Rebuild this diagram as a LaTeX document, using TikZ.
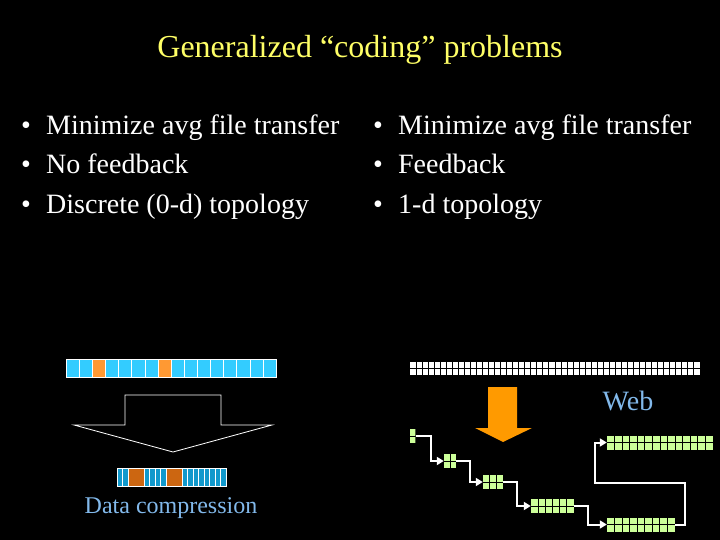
\documentclass[tikz,border=0pt]{standalone}
\usepackage{fontspec}
\setmainfont{Liberation Serif}
\usetikzlibrary{calc,arrows.meta}
\definecolor{titleyellow}{RGB}{255,255,102}
\definecolor{labelblue}{RGB}{130,185,235}
\definecolor{cellblue}{RGB}{51,204,255}
\definecolor{cellorange}{RGB}{255,153,51}
\definecolor{packblue}{RGB}{17,153,204}
\definecolor{packorange}{RGB}{204,102,17}
\definecolor{cellgreen}{RGB}{204,255,153}
\definecolor{arroworange}{RGB}{255,154,0}
\newcommand{\itemdot}{\makebox[25pt][l]{\textbullet}}

\begin{document}
\begin{tikzpicture}[x=1pt,y=-1pt,
        every node/.style={inner sep=0pt},
        title/.style={anchor=base,text=titleyellow,font=\fontsize{32}{34}\selectfont},
        item/.style={anchor=base west,text=white,font=\fontsize{28}{30}\selectfont},
        caption/.style={anchor=base,text=labelblue,font=\fontsize{24}{26}\selectfont},
        grid/.style={draw=none,minimum height=14pt,path picture={
            \foreach \k in {1,...,#1}
                \draw[black,line width=1pt]
                    ($(path picture bounding box.south west)!{\k/#1}!(path picture bounding box.south east)$)
                    -- ($(path picture bounding box.north west)!{\k/#1}!(path picture bounding box.north east)$);
            \draw[black,line width=1pt] (path picture bounding box.west) -- (path picture bounding box.east);}},
        block/.style={grid=#1,fill=cellgreen},
        flow/.style={white,line width=2pt,-{Triangle[length=7pt,width=8pt]}}]
    \useasboundingbox[fill=black] (0,0) rectangle (720,540);

    % heading and the two lists
    \node[title] (title) at (360,58) {Generalized “coding” problems};
    \node[item] (l1) at (21,135) {\itemdot Minimize avg file transfer};
    \node[item] (l2) at (21,174) {\itemdot No feedback};
    \node[item] (l3) at (21,214) {\itemdot Discrete (0-d) topology};
    \node[item] (r1) at (373,135) {\itemdot Minimize avg file transfer};
    \node[item] (r2) at (373,174) {\itemdot Feedback};
    \node[item] (r3) at (373,214) {\itemdot 1-d topology};

    % left: compression
    \foreach \i in {0,...,15}
        \draw[white,fill=cellblue] (66+\i*13.125,359) rectangle ++(13.125,18);
    \foreach \i in {2,7}
        \draw[white,fill=cellorange] (66+\i*13.125,359) rectangle ++(13.125,18);
    \draw[white,line width=0.8pt] (125,395) -- (221,395) -- (221,425) -- (272,425)
        -- (173,452) -- (74,425) -- (125,425) -- cycle;
    \foreach \x in {117,122.5,144,149.5,155,160.5,182,187.5,193,198.5,204,209.5,215,220.5}
        \draw[white,fill=packblue] (\x,468) rectangle ++(5.5,18);
    \foreach \x in {128,166}
        \draw[white,fill=packorange] (\x,468) rectangle ++(16,18);
    \node[caption] (data) at (171,513) {Data compression};

    % right: web
    \node[grid=48,fill=white,minimum width=290pt,minimum height=13pt] (file) at (555,368.5) {};
    \fill[arroworange] (488,387) -- (517,387) -- (517,428) -- (532,428)
        -- (503,442) -- (475,428) -- (488,428) -- cycle;
    \node[caption,font=\fontsize{28}{30}\selectfont] (web) at (628,410) {Web};

    \node[block=1,minimum width=6pt] (b1) at (412.5,436) {};
    \node[block=2,minimum width=12pt] (b2) at (450,461) {};
    \node[block=3,minimum width=20pt] (b3) at (493,482) {};
    \node[block=6,minimum width=43pt] (b4) at (552.5,506) {};
    \node[block=9,minimum width=68pt] (b5) at (641,524.5) {};
    \node[block=14,minimum width=106pt] (b6) at (660,442.5) {};
    \coordinate (bend) at (595,483);

    \draw[flow] (b1.east) -- ++(15,0) |- (b2.west);
    \draw[flow] (b2.east) -- ++(14,0) |- (b3.west);
    \draw[flow] (b3.east) -- ++(14,0) |- (b4.west);
    \draw[flow] (b4.east) -- ++(14,0) |- (b5.west);
    \draw[flow] (b5.east) -- ++(10,0) |- (bend) |- (b6.west);
\end{tikzpicture}
\end{document}
